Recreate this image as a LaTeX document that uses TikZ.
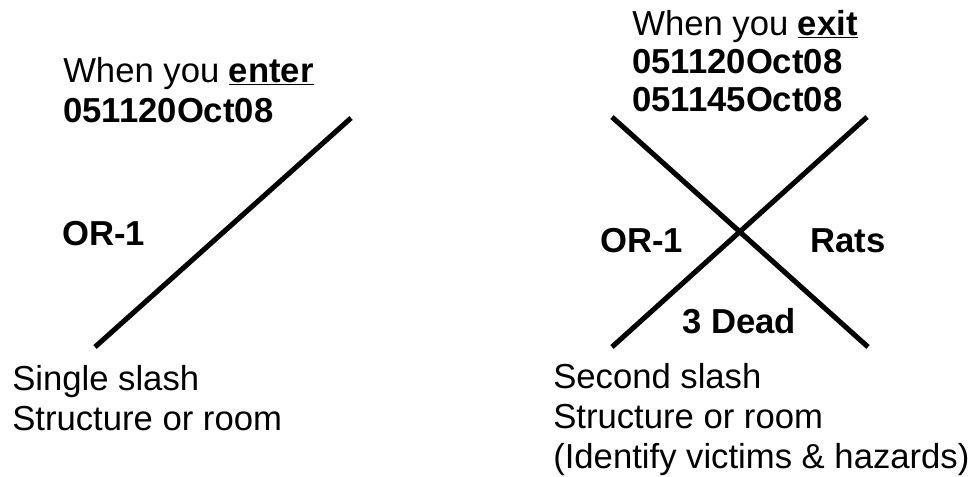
\documentclass[tikz,border=0pt]{standalone}
\usepackage{fontspec}
\setmainfont{Liberation Sans}
\tikzstyle{slash}=[-, line width=3.8pt]
\tikzstyle{txt}=[inner sep=0pt, anchor=base west, align=left, font=\fontsize{26}{30}\selectfont]
\tikzstyle{head}=[txt, font=\fontsize{26}{28.5}\selectfont]
\tikzstyle{tag}=[inner sep=0pt, anchor=base west, font=\fontsize{26}{30}\selectfont\bfseries]
\begin{document}
\begin{tikzpicture}[x=0.75pt, y=-0.75pt]
				\useasboundingbox (0,0) rectangle (970,476);
				
				%The single slash
				\coordinate (s1a) at (95,347);
				\coordinate (s1b) at (351,118);
				\draw[slash] (s1a) -- (s1b);
				
				\node[txt] (enter) at (63,122) {When you \textbf{\underline{enter}}\\\textbf{051120Oct08}};
				\node[tag] (or1) at (62,245) {OR-1};
				\node[txt] (single) at (12,430) {Single slash\\Structure or room};
				
				%The second slash
				\coordinate (s2a) at (612,347);
				\coordinate (s2b) at (867,117);
				\coordinate (s2c) at (612,117);
				\coordinate (s2d) at (868,347);
				\draw[slash] (s2a) -- (s2b);
				\draw[slash] (s2c) -- (s2d);
				
				\node[head] (exit) at (632,111) {When you \textbf{\underline{exit}}\\\textbf{051120Oct08}\\\textbf{051145Oct08}};
				\node[tag] (or2) at (600,252) {OR-1};
				\node[tag] (rats) at (810,252) {Rats};
				\node[tag] (dead) at (682,333) {3 Dead};
				\node[txt] (second) at (553,468) {Second slash\\Structure or room\\(Identify victims \& hazards)};
			\end{tikzpicture}
\end{document}
